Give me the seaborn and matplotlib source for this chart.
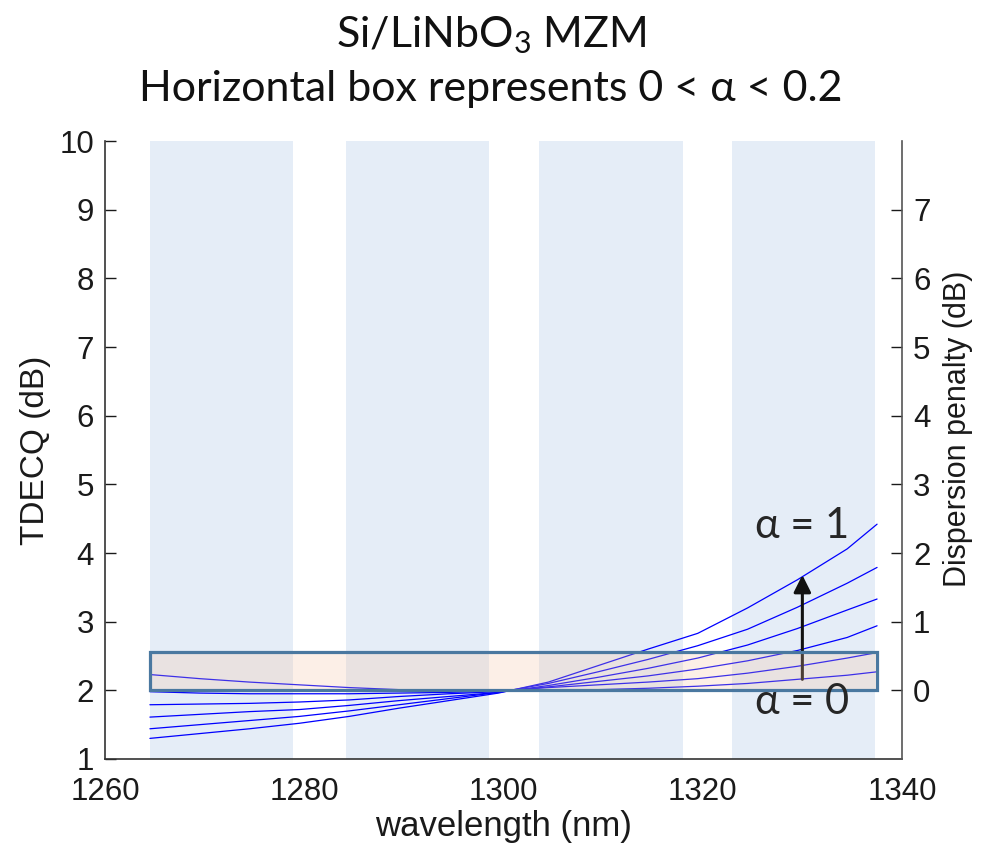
import matplotlib
matplotlib.use("Agg")
import matplotlib.pyplot as plt
import matplotlib.patches as mpatches
import pandas as pd
import seaborn as sns

# wavelength grid (nm) and TDECQ (dB), one list per chirp value
wavelength = [1264.5, 1269.5, 1274.5, 1279.5, 1284.5, 1289.5, 1294.5, 1299.5,
              1304.5, 1309.5, 1314.5, 1319.5, 1324.5, 1329.5, 1334.5, 1337.5]
alpha_values = [0.0, 0.2, 0.4, 0.6, 0.8, 1.0]
tdecq_a00 = [2.23, 2.17, 2.12, 2.08, 2.04, 2.01, 1.99, 1.99, 2.00, 2.01, 2.03, 2.06, 2.10, 2.16, 2.22, 2.27]
tdecq_a02 = [1.98, 1.96, 1.95, 1.95, 1.95, 1.96, 1.97, 1.99, 2.04, 2.08, 2.12, 2.17, 2.25, 2.35, 2.47, 2.55]
tdecq_a04 = [1.79, 1.80, 1.81, 1.83, 1.86, 1.91, 1.95, 1.98, 2.05, 2.13, 2.21, 2.31, 2.43, 2.58, 2.77, 2.94]
tdecq_a06 = [1.61, 1.65, 1.69, 1.72, 1.78, 1.85, 1.91, 1.97, 2.07, 2.19, 2.32, 2.47, 2.66, 2.90, 3.17, 3.33]
tdecq_a08 = [1.44, 1.50, 1.56, 1.62, 1.70, 1.79, 1.88, 1.97, 2.10, 2.27, 2.45, 2.65, 2.89, 3.21, 3.56, 3.79]
tdecq_a10 = [1.30, 1.37, 1.44, 1.52, 1.62, 1.74, 1.85, 1.96, 2.12, 2.36, 2.60, 2.83, 3.20, 3.61, 4.06, 4.42]

# CWDM-like lanes (shaded bands)
band_start = [1264.5, 1284.2, 1303.6, 1322.9]
band_end = [1278.9, 1298.5, 1318.0, 1337.3]

# box for 0 < alpha < 0.2
box_x = [1264.5, 1337.5]
box_y = [2.0, 2.56]

xticks = [1260, 1280, 1300, 1320, 1340]
yticks_left = [1, 2, 3, 4, 5, 6, 7, 8, 9, 10]
yticks_right = [0, 1, 2, 3, 4, 5, 6, 7]

rows = []
for a, ys in zip(alpha_values, [tdecq_a00, tdecq_a02, tdecq_a04, tdecq_a06, tdecq_a08, tdecq_a10]):
    for w, t in zip(wavelength, ys):
        rows.append({"wavelength": w, "TDECQ": t, "alpha": a})
df = pd.DataFrame(rows)

sns.set_style("white")
plt.rcParams["font.family"] = ["Liberation Sans", "DejaVu Sans"]

fig = plt.figure(figsize=(9.82, 8.55), dpi=100)
ax = fig.add_axes([0.107, 0.1123, 0.8115, 0.7227])

for s, e in zip(band_start, band_end):
    ax.axvspan(s, e, color="#e5edf7", lw=0, zorder=0)

sns.lineplot(data=df, x="wavelength", y="TDECQ", hue="alpha",
             palette=["#0000ff"] * len(alpha_values), legend=False,
             linewidth=0.9, ax=ax, zorder=2)

ax.annotate("", xy=(1330, 3.68), xytext=(1330, 2.16),
            arrowprops=dict(arrowstyle="-|>", color="#111111", lw=2.2,
                            mutation_scale=26, shrinkA=0, shrinkB=0), zorder=3)

box = mpatches.Rectangle((box_x[0], box_y[0]), box_x[1] - box_x[0], box_y[1] - box_y[0],
                         facecolor=(0.968, 0.764, 0.64, 0.25), edgecolor="#4a78a0",
                         lw=2.3, zorder=4)
ax.add_patch(box)

lato = ["Lato", "DejaVu Sans"]
ax.text(1330, 4.39, "α = 1", ha="center", va="center", fontsize=30,
        color="#262626", family=lato, zorder=5)
ax.text(1330, 1.83, "α = 0", ha="center", va="center", fontsize=30,
        color="#262626", family=lato, zorder=5)

ax.set_xlim(1260, 1340)
ax.set_ylim(1, 10)
ax.set_xticks(xticks)
ax.set_yticks(yticks_left)
ax.set_xlabel("wavelength (nm)", fontsize=25, color="#1a1a1a", labelpad=2)
ax.set_ylabel("TDECQ (dB)", fontsize=24, color="#1a1a1a", labelpad=6)
ax.tick_params(axis="both", direction="in", length=8, width=1, colors="#1a1a1a",
               labelsize=22.5)
ax.tick_params(axis="x", pad=13)
ax.tick_params(axis="y", pad=8)
ax.spines["top"].set_visible(False)
ax.spines["right"].set_visible(False)
for side in ["left", "bottom"]:
    ax.spines[side].set_color("#333333")
    ax.spines[side].set_linewidth(1.2)

ax2 = ax.twinx()
ax2.set_ylim(-1, 8)
ax2.set_yticks(yticks_right)
ax2.set_ylabel("Dispersion penalty (dB)", fontsize=22, color="#1a1a1a")
ax2.yaxis.set_label_coords(1.052, 0.535)
ax2.tick_params(axis="y", direction="in", length=8, width=1, colors="#1a1a1a",
                labelsize=22.5, pad=8)
for side in ["top", "left", "bottom"]:
    ax2.spines[side].set_visible(False)
ax2.spines["right"].set_color("#555555")
ax2.spines["right"].set_linewidth(1.2)

fig.text(0.5, 0.959, "Si/LiNbO$_\\mathregular{3}$ MZM", ha="center", va="center",
         fontsize=31, color="#111111", family=lato)
fig.text(0.5, 0.896, "Horizontal box represents 0 < α < 0.2", ha="center", va="center",
         fontsize=31, color="#111111", family=lato)

fig.savefig("out.png", dpi=100)
